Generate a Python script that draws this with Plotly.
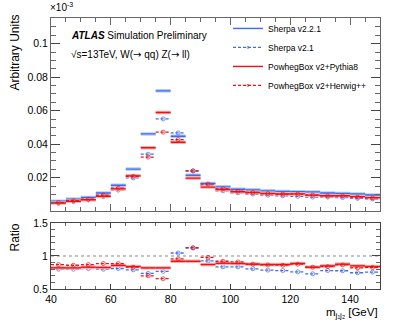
import plotly.graph_objects as go

# ---- data ----
bin_edges = [40, 45, 50, 55, 60, 65, 70, 75, 80, 85, 90, 95, 100,
             105, 110, 115, 120, 125, 130, 135, 140, 145, 150]

sherpa221 = [0.0059, 0.0072, 0.0082, 0.0108, 0.0155, 0.0251, 0.0461, 0.0718,
             0.0447, 0.0214, 0.0165, 0.0145, 0.0131, 0.0127, 0.0121, 0.0118,
             0.0116, 0.0115, 0.0108, 0.0105, 0.0102, 0.0096]
sherpa21 = [0.00472, 0.00576, 0.00664, 0.00864, 0.01256, 0.01983, 0.03398, 0.05507,
            0.04671, 0.02397, 0.01526, 0.01212, 0.01094, 0.01024, 0.00951, 0.00920,
            0.00882, 0.00840, 0.00842, 0.00815, 0.00761, 0.00726]
powheg_pythia = [0.00484, 0.00590, 0.00681, 0.00892, 0.01328, 0.02108, 0.03780, 0.05888,
                 0.04112, 0.01969, 0.01436, 0.01291, 0.01161, 0.01113, 0.01053, 0.01027,
                 0.01028, 0.00955, 0.00918, 0.00920, 0.00867, 0.00806]
powheg_herwig = [0.00513, 0.00619, 0.00713, 0.00956, 0.01372, 0.02083, 0.03227, 0.04717,
                 0.04269, 0.02408, 0.01617, 0.01334, 0.01192, 0.01113, 0.01047, 0.01015,
                 0.01016, 0.00955, 0.00907, 0.00908, 0.00836, 0.00793]

series_names = ["Sherpa v2.2.1", "Sherpa v2.1", "PowhegBox v2+Pythia8", "PowhegBox v2+Herwig++"]

main_y_ticks = [0.02, 0.04, 0.06, 0.08, 0.1]
main_y_ticktext = ["0.02", "0.04", "0.06", "0.08", "0.1"]
ratio_y_ticks = [0.5, 1, 1.5]
ratio_y_ticktext = ["0.5", "1", "1.5"]
x_ticks = [40, 60, 80, 100, 120, 140]

# ---- styles ----
BLUE = "#3d6cf0"
BLUE_BAND = "#b8c8f8"
RED = "#ee1111"
RED_BAND = "#f7b0b0"
FONT = "Liberation Sans, Arial, Helvetica, sans-serif"
ARROW = '<span style="font-family:DejaVu Sans">→</span>'


def segments(vals):
    xs, ys = [], []
    for i, v in enumerate(vals):
        xs += [bin_edges[i], bin_edges[i + 1], None]
        ys += [v, v, None]
    return xs, ys


def dashed_segments(vals):
    xs, ys, sz = [], [], []
    for i, v in enumerate(vals):
        lo, hi = bin_edges[i], bin_edges[i + 1]
        xs += [lo, (lo + hi) / 2, hi, None]
        ys += [v, v, v, None]
        sz += [0, 4, 0, 0]
    return xs, ys, sz


def ratio(vals):
    return [a / b for a, b in zip(vals, sherpa221)]


fig = go.Figure()


def add_solid(vals, color, band, name, xa, ya, legend):
    xs, ys = segments(vals)
    fig.add_trace(go.Scatter(x=xs, y=ys, mode="lines", line=dict(color=band, width=3.5),
                             xaxis=xa, yaxis=ya, showlegend=False, hoverinfo="skip"))
    fig.add_trace(go.Scatter(x=xs, y=ys, mode="lines", line=dict(color=color, width=1.4),
                             xaxis=xa, yaxis=ya, name=name, showlegend=legend))


def add_dashed(vals, color, name, xa, ya, legend):
    xs, ys, sz = dashed_segments(vals)
    fig.add_trace(go.Scatter(x=xs, y=ys, mode="lines+markers",
                             line=dict(color=color, width=1.3, dash="3px,2px"),
                             marker=dict(size=sz, symbol="circle-open", color=color,
                                         line=dict(width=1, color=color)),
                             xaxis=xa, yaxis=ya, name=name, showlegend=legend))


# main panel
add_solid(sherpa221, BLUE, BLUE_BAND, series_names[0], "x", "y", True)
add_dashed(sherpa21, BLUE, series_names[1], "x", "y", True)
add_solid(powheg_pythia, RED, RED_BAND, series_names[2], "x", "y", True)
add_dashed(powheg_herwig, RED, series_names[3], "x", "y", True)

# ratio panel
add_dashed(ratio(sherpa21), BLUE, series_names[1], "x2", "y2", False)
add_solid(ratio(powheg_pythia), RED, RED_BAND, series_names[2], "x2", "y2", False)
add_dashed(ratio(powheg_herwig), RED, series_names[3], "x2", "y2", False)

axis_common = dict(showline=True, linewidth=1, mirror="allticks", ticks="inside",
                   showgrid=False, zeroline=False, tickfont=dict(size=10.5, color="black"))

fig.update_layout(
    width=399, height=324,
    margin=dict(l=51, r=19, t=14, b=35),
    paper_bgcolor="white", plot_bgcolor="white",
    font=dict(family=FONT, color="black"),
    showlegend=True,
    legend=dict(x=0.538, y=1.015, xanchor="left", yanchor="top",
                font=dict(size=8.5), bgcolor="rgba(0,0,0,0)", itemwidth=30,
                tracegroupgap=0),
    xaxis=dict(domain=[0, 1], anchor="y", range=[40, 150], showticklabels=False,
               tickmode="array", tickvals=x_ticks, ticklen=7, linecolor="#666", tickcolor="#666",
               minor=dict(ticks="inside", ticklen=4, dtick=5, tick0=40, tickcolor="#666",
                          showgrid=False),
               **axis_common),
    yaxis=dict(domain=[0.2873, 1], anchor="x", range=[0, 0.1153],
               tickmode="array", tickvals=main_y_ticks, ticktext=main_y_ticktext,
               ticklen=9, linecolor="#666", tickcolor="#444",
               minor=dict(ticks="inside", ticklen=5, dtick=0.005, tick0=0, tickcolor="#666",
                          showgrid=False),
               **axis_common),
    xaxis2=dict(domain=[0, 1], anchor="y2", range=[40, 150], matches="x",
                tickmode="array", tickvals=x_ticks, ticklen=5, linecolor="#444", tickcolor="#444",
                minor=dict(ticks="inside", ticklen=3, dtick=5, tick0=40, tickcolor="#666",
                           showgrid=False),
                **axis_common),
    yaxis2=dict(domain=[0, 0.2436], anchor="x2", range=[0.5, 1.5],
                tickmode="array", tickvals=ratio_y_ticks, ticktext=ratio_y_ticktext,
                ticklen=8, linecolor="#444", tickcolor="#444",
                minor=dict(ticks="inside", ticklen=4, dtick=0.1, tick0=0.5, tickcolor="#666",
                           showgrid=False),
                **axis_common),
)

fig.add_shape(type="line", xref="x2 domain", yref="y2", x0=0, x1=1, y0=1, y1=1,
              line=dict(color="#888", width=1, dash="dot"), layer="below")

fig.update_layout(annotations=[
    dict(text="×10<sup>-3</sup>", xref="paper", yref="paper", x=0, y=1,
         xanchor="left", yanchor="bottom", showarrow=False, font=dict(size=10),
         xshift=-3, yshift=3),
    dict(text="<b><i>ATLAS</i></b> Simulation Preliminary", xref="paper", yref="paper",
         x=0.0547, y=0.935, xanchor="left", yanchor="middle", showarrow=False,
         font=dict(size=10)),
    dict(text="√s=13TeV, W(" + ARROW + " qq) Z(" + ARROW + " ll)", xref="paper", yref="paper",
         x=0.0547, y=0.865, xanchor="left", yanchor="middle", showarrow=False,
         font=dict(size=10)),
    dict(text="Arbitrary Units", xref="paper", yref="paper", x=0, xshift=-36,
         y=0.8727, xanchor="center", yanchor="middle", textangle=-90, showarrow=False,
         font=dict(size=12)),
    dict(text="Ratio", xref="paper", yref="paper", x=0, xshift=-36,
         y=0.19, xanchor="center", yanchor="middle", textangle=-90, showarrow=False,
         font=dict(size=12)),
    dict(text="m<sub>j₁j₂</sub> [GeV]", xref="paper", yref="paper", x=1, y=0,
         yshift=-24, xanchor="right", yanchor="middle", showarrow=False,
         font=dict(size=11.5)),
])

fig.write_html("out.html", config={"displayModeBar": False},
               post_script="document.body.style.margin='0';document.body.style.overflow='hidden';")
